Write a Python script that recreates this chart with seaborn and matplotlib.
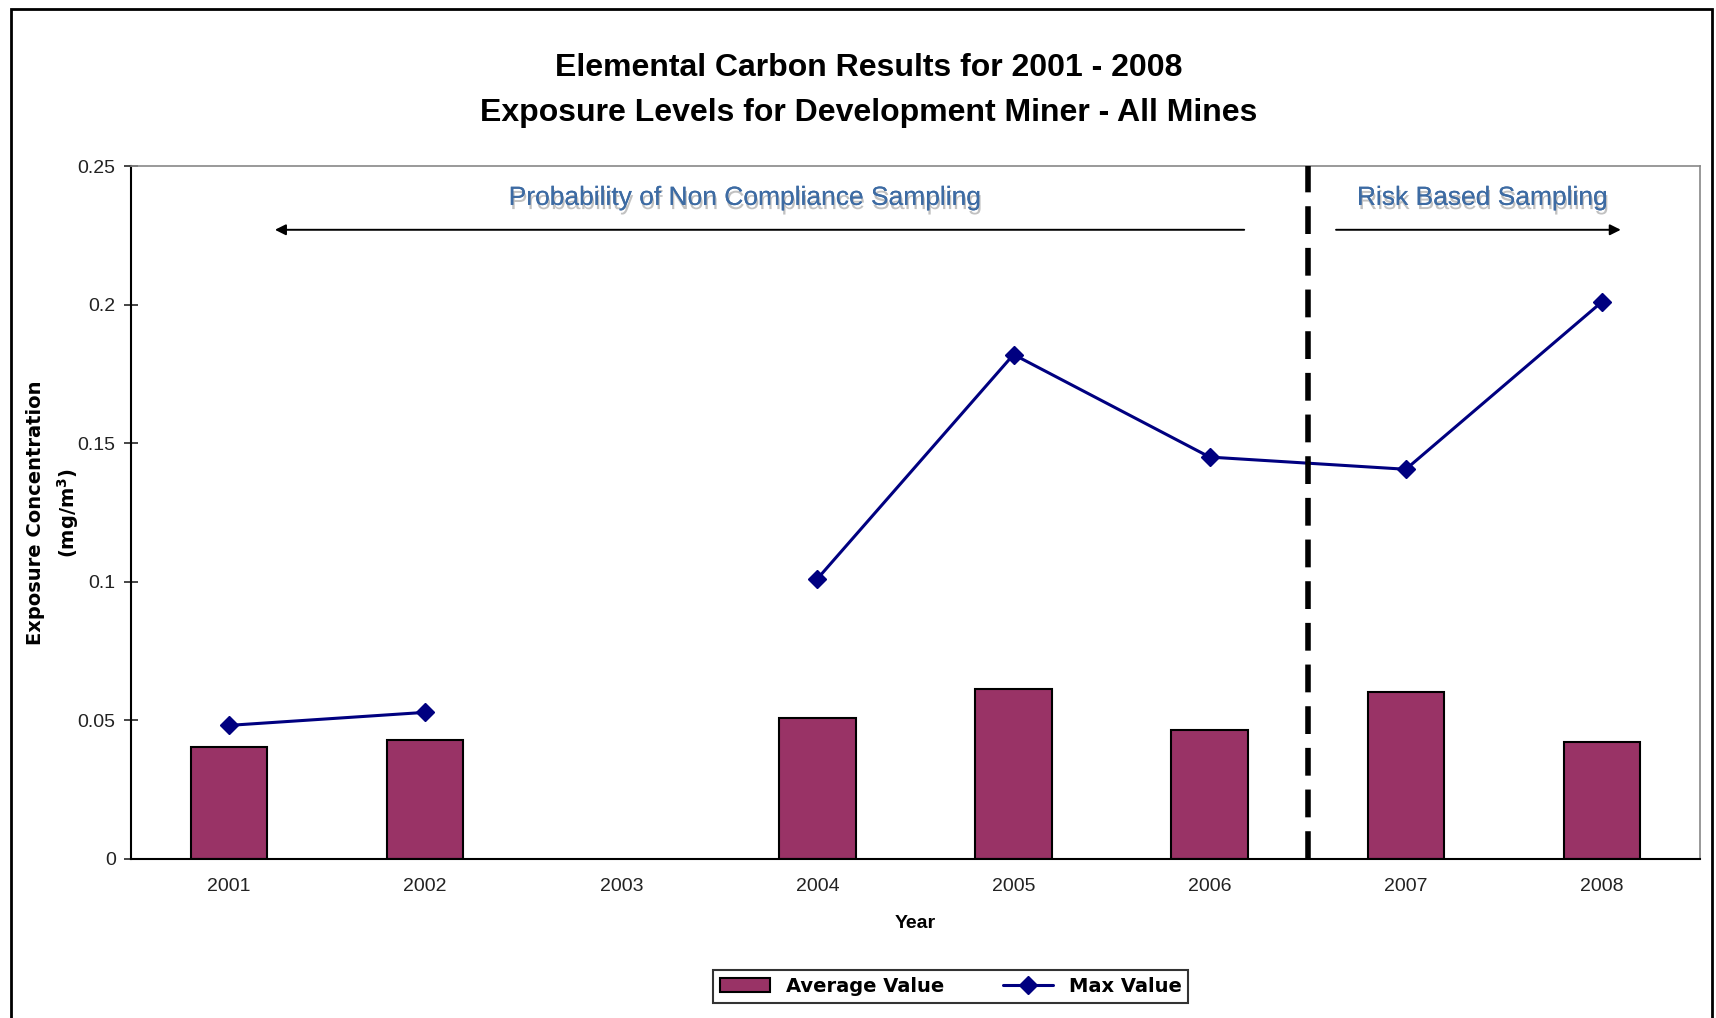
import numpy as np
import pandas as pd
import matplotlib
matplotlib.use("Agg")
import matplotlib.pyplot as plt
import matplotlib.patheffects as pe
from matplotlib.lines import Line2D
from matplotlib.patches import Patch, Rectangle
import seaborn as sns

sns.set_theme(style="white")
plt.rcParams.update({'font.family': ['Liberation Sans', 'DejaVu Sans'],
                     'axes.edgecolor': 'black',
                     'text.color': 'black',
                     'axes.labelcolor': 'black'})

years = ['2001', '2002', '2003', '2004', '2005', '2006', '2007', '2008']
avg_value = [0.0403, 0.0430, np.nan, 0.0510, 0.0612, 0.0466, 0.0604, 0.0423]
max_value = [0.0482, 0.0529, np.nan, 0.1011, 0.1820, 0.1450, 0.1406, 0.2010]

title_lines = ["Elemental Carbon Results for 2001 - 2008",
               "Exposure Levels for Development Miner - All Mines"]
left_label = "Probability of Non Compliance Sampling"
right_label = "Risk Based Sampling"

bar_color = '#993366'
line_color = '#000080'
note_color = '#3d6ba3'

df = pd.DataFrame({'year': years, 'avg': avg_value, 'max': max_value})

fig = plt.figure(figsize=(17.16, 10.18), dpi=100)
ax = fig.add_axes([0.0763, 0.1562, 0.9144, 0.6807])

sns.barplot(data=df.dropna(subset=['avg']), x='year', y='avg', order=years,
            color=bar_color, saturation=1, width=0.39, edgecolor='black',
            linewidth=1.5, ax=ax)
pos = np.arange(len(years))
ax.plot(pos, df['max'], color=line_color, lw=2.2, marker='D', markersize=9,
        zorder=5)

ax.set_xlim(-0.5, len(years) - 0.5)
ax.set_ylim(0, 0.25)
ax.set_yticks([0, 0.05, 0.1, 0.15, 0.2, 0.25])
ax.set_yticklabels(['0', '0.05', '0.1', '0.15', '0.2', '0.25'])
ax.set_xticks(pos)
ax.set_xticks(np.arange(-0.5, len(years)), minor=True)
ax.tick_params(axis='x', which='major', length=0, pad=14, labelsize=14)
ax.tick_params(axis='x', which='minor', length=10, direction='inout', width=1.2)
ax.tick_params(axis='y', length=10, direction='inout', width=1.2, labelsize=14,
               left=True, pad=6)
for lab in ax.get_xticklabels() + ax.get_yticklabels():
    lab.set_color('#222222')

ax.spines['left'].set_linewidth(1.5)
ax.spines['bottom'].set_linewidth(1.5)
ax.spines['top'].set_color('#888888')
ax.spines['right'].set_color('#888888')
ax.spines['top'].set_linewidth(1.2)
ax.spines['right'].set_linewidth(1.2)

ax.set_xlabel("Year", fontsize=14, fontweight='bold', labelpad=14)
ax.set_ylabel("Exposure Concentration\n(mg/m$^{\\mathbf{3}}$)", fontsize=14,
              fontweight='bold', linespacing=1.5, va='center',
              family=['DejaVu Sans'])
ax.yaxis.set_label_coords(-0.0495, 0.5)

# period divider and annotations
ax.axvline(5.5, color='black', lw=4, linestyle=(0, (5, 2.5)), zorder=6)
ax.annotate('', xy=(0.22, 0.227), xytext=(5.19, 0.227),
            arrowprops=dict(arrowstyle='-|>', color='black', lw=1.4,
                            mutation_scale=16))
ax.annotate('', xy=(7.11, 0.227), xytext=(5.63, 0.227),
            arrowprops=dict(arrowstyle='-|>', color='black', lw=1.4,
                            mutation_scale=16))
shadow = [pe.withSimplePatchShadow(offset=(1, -3), shadow_rgbFace='#777777',
                                   alpha=0.45), pe.Normal()]
ax.text(2.63, 0.2385, left_label, ha='center', va='center', fontsize=19,
        color=note_color, path_effects=shadow)
ax.text(6.39, 0.2385, right_label, ha='center', va='center', fontsize=19,
        color=note_color, path_effects=shadow)

fig.text(0.506, 0.933, title_lines[0], ha='center', va='center',
         fontsize=23, fontweight='bold')
fig.text(0.506, 0.889, title_lines[1], ha='center', va='center',
         fontsize=23, fontweight='bold')

handles = [Patch(facecolor=bar_color, edgecolor='black', linewidth=1.5),
           Line2D([], [], color=line_color, lw=2.2, marker='D', markersize=9)]
leg = fig.legend(handles, ['Average Value', 'Max Value'], loc='center',
                 bbox_to_anchor=(0.554, 0.031), ncol=2, frameon=True,
                 fancybox=False, edgecolor='black', handlelength=2.6,
                 columnspacing=3, borderpad=0.35,
                 prop={'family': 'DejaVu Sans', 'weight': 'bold', 'size': 14})
leg.get_frame().set_linewidth(1.5)

fig.patches.append(Rectangle((0.0064, -0.05), 0.9913, 1.041, fill=False,
                             edgecolor='black', lw=2,
                             transform=fig.transFigure, figure=fig))

fig.savefig("out.png", dpi=100)
